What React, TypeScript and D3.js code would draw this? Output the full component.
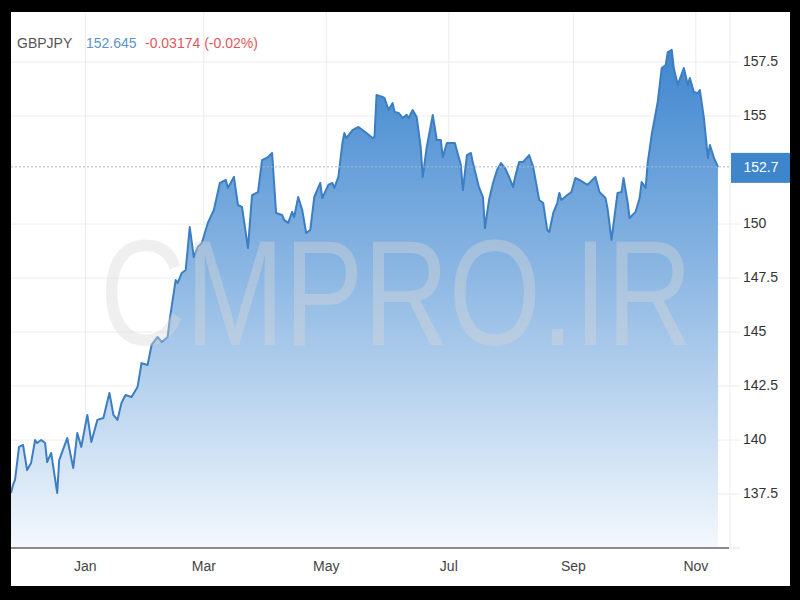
import React from "react";
import * as d3 from "d3";

const startDate = new Date(2012, 10, 25);
const endDomainDate = new Date(2013, 10, 18);

// days since startDate
const dayOffsets = [
  0, 1, 2, 4, 6, 8, 10, 12, 13, 15, 17, 18, 20, 23, 24, 28, 31, 33, 35, 38,
  40, 43, 46, 49, 51, 53, 55, 57, 60, 63, 65, 68, 70, 73, 75, 78, 79, 82, 83, 85,
  87, 89, 91, 93, 95, 98, 101, 104, 107, 108, 111, 113, 115, 118, 120, 123, 125, 128, 130, 132,
  135, 136, 138, 140, 141, 143, 145, 147, 149, 151, 154, 155, 158, 160, 161, 163, 165, 166, 167, 170,
  173, 175, 177, 180, 181, 182, 185, 186, 188, 190, 191, 193, 195, 197, 198, 200, 202, 204, 205, 207,
  210, 212, 214, 215, 217, 221, 224, 225, 227, 229, 230, 233, 235, 236, 238, 240, 242, 244, 246, 248,
  250, 251, 253, 255, 258, 260, 261, 263, 265, 267, 268, 270, 272, 273, 274, 277, 279, 281, 283, 287,
  291, 293, 296, 297, 299, 302, 304, 305, 307, 308, 311, 313, 314, 316, 317, 319, 322, 324, 326, 327,
  329, 330, 332, 335, 337, 338, 340, 342, 343, 345, 347, 348, 350, 352,
];

const values = [
  137.55, 137.92, 138.15, 139.68, 139.77, 138.61, 138.94, 140.0, 139.86, 140.0,
  139.86, 138.98, 139.4, 137.55, 139.07, 140.09, 138.7, 140.32, 139.68, 141.16,
  139.91, 140.93, 141.02, 142.18, 141.16, 140.93, 141.71, 142.08, 141.99, 142.45,
  143.56, 143.47, 144.4, 144.77, 144.54, 144.77, 145.56, 147.41, 147.27, 147.73,
  147.87, 149.86, 148.47, 148.94, 149.12, 150.05, 150.65, 151.9, 152.04, 151.67,
  152.18, 150.88, 150.79, 148.89, 151.34, 151.48, 152.96, 153.1, 153.29, 150.51,
  150.42, 150.19, 150.05, 150.56, 150.32, 151.25, 150.65, 149.58, 149.72, 151.25,
  151.9, 151.2, 151.81, 151.9, 151.67, 152.18, 153.75, 154.21, 153.98, 154.35,
  154.49, 154.35, 154.21, 153.98, 154.03, 155.97, 155.88, 155.83, 155.28, 155.6,
  155.19, 155.14, 154.91, 155.05, 154.91, 155.28, 154.95, 153.56, 152.18, 153.56,
  155.05, 153.89, 153.89, 153.1, 153.75, 153.75, 152.73, 151.57, 153.19, 153.29,
  152.82, 151.71, 151.25, 149.81, 151.11, 151.9, 152.5, 152.82, 152.59, 152.18,
  151.71, 152.18, 152.87, 152.87, 153.19, 152.64, 152.13, 151.11, 150.97, 149.72,
  149.63, 150.51, 150.97, 151.44, 151.11, 151.34, 151.48, 152.13, 152.04, 151.81,
  152.18, 151.48, 151.2, 150.74, 149.26, 151.44, 151.48, 152.13, 151.02, 150.28,
  150.56, 151.2, 151.94, 151.67, 152.82, 154.12, 155.65, 157.22, 157.36, 157.96,
  158.06, 157.22, 156.44, 157.22, 156.44, 156.76, 156.11, 156.06, 156.2, 154.91,
  153.06, 153.66, 153.06, 152.645,
];

const yTicks = [137.5, 140, 142.5, 145, 147.5, 150, 155, 157.5];
const yTickLabels = ["137.5", "140", "142.5", "145", "147.5", "150", "155", "157.5"];

const monthTickDates = [
  new Date(2013, 0, 1),
  new Date(2013, 2, 1),
  new Date(2013, 4, 1),
  new Date(2013, 6, 1),
  new Date(2013, 8, 1),
  new Date(2013, 10, 1),
];
const monthTickLabels = ["Jan", "Mar", "May", "Jul", "Sep", "Nov"];

const symbol = "GBPJPY";
const lastPriceText = "152.645";
const changeText = "-0.03174 (-0.02%)";
const lastLabel = "152.7";
const watermark = "CMPRO.IR";

const FONT = "'Liberation Sans', Arial, Helvetica, sans-serif";

export default function App() {
  const W = 800;
  const H = 600;
  const left = 11;
  const top = 12;
  const right = 790;
  const bottom = 586;
  const plotRight = 730;
  const axisY = 548;

  const x = d3.scaleTime().domain([startDate, endDomainDate]).range([left, plotRight]);
  const y = d3.scaleLinear().domain([137.5, 157.5]).range([494, 62]);

  const data = dayOffsets.map((d, i) => ({
    date: d3.timeDay.offset(startDate, d),
    value: values[i],
  }));

  const line = d3
    .line<{ date: Date; value: number }>()
    .x((d) => x(d.date))
    .y((d) => y(d.value));
  const area = d3
    .area<{ date: Date; value: number }>()
    .x((d) => x(d.date))
    .y0(axisY)
    .y1((d) => y(d.value));

  const last = data[data.length - 1];
  const lastY = y(last.value);

  return (
    <svg
      width={W}
      height={H}
      style={{ position: "absolute", left: 0, top: 0, display: "block" }}
    >
      <defs>
        <linearGradient id="fillGrad" gradientUnits="userSpaceOnUse" x1="0" y1="50" x2="0" y2={axisY}>
          <stop offset="0" stopColor="#3f86cf" />
          <stop offset="0.45" stopColor="#8cb7e3" />
          <stop offset="1" stopColor="#f4f8fd" />
        </linearGradient>
        <clipPath id="plotClip">
          <rect x={left} y={top} width={plotRight - left} height={axisY - top} />
        </clipPath>
      </defs>
      <rect x={0} y={0} width={W} height={H} fill="#000" />
      <rect x={left} y={top} width={right - left} height={bottom - top} fill="#fff" />

      {/* vertical grid */}
      {monthTickDates.map((d, i) => (
        <line
          key={"vg" + i}
          x1={x(d)}
          x2={x(d)}
          y1={top}
          y2={axisY}
          stroke="#ececec"
          strokeWidth={1}
        />
      ))}
      <line x1={plotRight} x2={plotRight} y1={top} y2={axisY} stroke="#ececec" strokeWidth={1} />

      {/* horizontal grid */}
      {yTicks.map((t, i) => (
        <line
          key={"hg" + i}
          x1={left}
          x2={740}
          y1={y(t)}
          y2={y(t)}
          stroke="#ececec"
          strokeWidth={1}
        />
      ))}

      <path d={area(data) || ""} fill="url(#fillGrad)" clipPath="url(#plotClip)" />
      <path
        d={line(data) || ""}
        fill="none"
        stroke="#3b7ec2"
        strokeWidth={2}
        strokeLinejoin="round"
        clipPath="url(#plotClip)"
      />

      {/* watermark */}
      <g transform="translate(100,345) scale(0.79,1)">
        <text x={0} y={0} fontFamily={FONT} fontSize={150} fill="#d8d8d8" fillOpacity={0.4}>
          {watermark}
        </text>
      </g>

      {/* last price dotted line */}
      <line
        x1={left}
        x2={731}
        y1={lastY}
        y2={lastY}
        stroke="#a9b9cc"
        strokeWidth={1}
        strokeDasharray="2,2"
      />

      {/* x axis line */}
      <line x1={left} x2={729} y1={axisY} y2={axisY} stroke="#8a8a8a" strokeWidth={2} />
      <line x1={729} x2={740} y1={axisY} y2={axisY} stroke="#e4e4e4" strokeWidth={1} />

      {/* x labels */}
      {monthTickDates.map((d, i) => (
        <text
          key={"xl" + i}
          x={x(d)}
          y={567}
          textAnchor="middle"
          dominantBaseline="middle"
          fontFamily={FONT}
          fontSize={14}
          fill="#444"
        >
          {monthTickLabels[i]}
        </text>
      ))}

      {/* y labels */}
      {yTicks.map((t, i) => (
        <text
          key={"yl" + i}
          x={743}
          y={y(t)}
          dominantBaseline="middle"
          fontFamily={FONT}
          fontSize={14}
          fill="#333"
        >
          {yTickLabels[i]}
        </text>
      ))}

      {/* last value box */}
      <rect x={731} y={lastY - 14} width={right - 731} height={30} fill="#3d86cc" />
      <text
        x={761}
        y={lastY + 1}
        textAnchor="middle"
        dominantBaseline="middle"
        fontFamily={FONT}
        fontSize={14}
        fill="#fff"
      >
        {lastLabel}
      </text>

      {/* header */}
      <text x={17} y={44} dominantBaseline="middle" fontFamily={FONT} fontSize={14} fill="#555">
        {symbol}
      </text>
      <text x={86} y={44} dominantBaseline="middle" fontFamily={FONT} fontSize={14} fill="#5b95cc">
        {lastPriceText}
      </text>
      <text x={145} y={44} dominantBaseline="middle" fontFamily={FONT} fontSize={14} fill="#e0575b">
        {changeText}
      </text>
    </svg>
  );
}
